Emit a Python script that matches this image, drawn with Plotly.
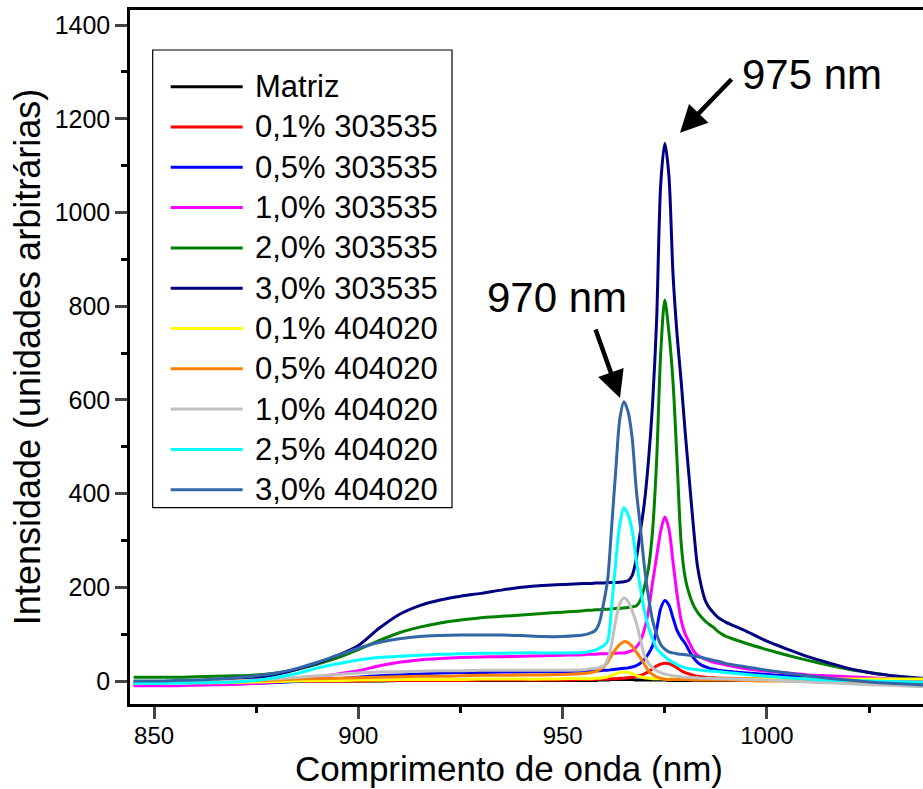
import plotly.graph_objects as go

# ---------------- data ----------------
wavelength = ([845, 850, 855, 860, 865, 870, 875, 880, 885, 890, 895, 900, 905, 910, 915,
               920, 925, 930, 935, 940, 945, 950, 955]
              + list(range(956, 991))
              + [995, 1000, 1005, 1010, 1015, 1020, 1025, 1030, 1035, 1040])

matriz = ([-1, -1, -1, -1, -1, 0, 0, 0, 0, 0, 0, 0, 0, 1, 1, 1, 1, 1, 1, 1, 1, 1, 1]
          + [1, 1, 1, 2, 2, 2, 3, 3, 3, 3, 3, 3, 2, 2, 2, 2, 2, 2, 2, 2, 1, 1, 1, 1, 1,
             1, 1, 1, 1, 1, 1, 1, 1, 1, 1]
          + [1, 1, 1, 0, 0, 0, 0, 0, 0, 0])

s303535_01 = ([-3, -3, -3, -3, -2, -2, -2, -1, -1, 0, 0, 0, 1, 1, 1, 1, 1, 2, 2, 2, 2, 2, 3]
              + [3, 3, 3, 4, 4, 4, 5, 5, 6, 6, 7, 8, 10, 12, 15, 20, 26, 32, 36, 38, 37, 33,
                 28, 22, 18, 15, 12, 10, 9, 8, 7, 7, 6, 6, 6]
              + [5, 4, 4, 3, 3, 2, 2, 2, 1, 1])

s303535_05 = ([-8, -8, -8, -7, -7, -6, -5, -3, -1, 2, 5, 8, 11, 13, 15, 17, 18, 18, 19, 19, 20, 20, 21]
              + [21, 22, 22, 22, 23, 23, 24, 25, 26, 27, 28, 30, 33, 38, 46, 58, 75, 110, 155,
                 172, 162, 135, 108, 92, 80, 64, 50, 40, 34, 30, 27, 25, 23, 22, 21]
              + [17, 14, 11, 8, 6, 5, 4, 3, 2, 2])

s303535_10 = ([-10, -10, -10, -9, -8, -7, -5, -2, 2, 8, 15, 22, 32, 40, 45, 48, 50, 51, 52, 53, 54, 55, 56]
              + [57, 57, 57, 58, 58, 58, 59, 59, 60, 60, 62, 65, 72, 85, 110, 150, 210, 265, 320,
                 350, 325, 255, 185, 130, 100, 82, 65, 55, 50, 46, 43, 40, 38, 36, 34]
              + [26, 21, 17, 13, 11, 9, 7, 5, 4, 3])

s303535_20 = ([8, 8, 8, 9, 10, 11, 13, 17, 25, 36, 50, 67, 86, 103, 115, 124, 130, 135, 138, 141, 144, 147, 150]
              + [151, 151, 152, 152, 153, 153, 154, 155, 155, 156, 157, 158, 160, 172, 200, 240, 320,
                 470, 700, 813, 745, 640, 470, 295, 220, 185, 162, 147, 136, 127, 120, 114, 106, 100, 95]
              + [80, 67, 55, 44, 34, 25, 18, 12, 7, 4])

s303535_30 = ([-4, -4, -3, -2, 0, 3, 7, 14, 25, 38, 55, 76, 112, 142, 161, 173, 181, 187, 194, 200, 204, 206, 208]
              + [208, 208, 209, 209, 209, 210, 210, 210, 211, 212, 214, 225, 260, 318, 380, 470, 590,
                 770, 1060, 1148, 1080, 870, 740, 640, 530, 430, 330, 245, 200, 170, 155, 145, 136, 130, 125]
              + [106, 85, 68, 52, 39, 27, 18, 12, 8, 5])

s404020_01 = ([-5, -5, -5, -4, -4, -3, -2, -1, 0, 1, 1, 2, 2, 3, 3, 3, 3, 4, 4, 4, 4, 5, 5]
              + [5, 5, 6, 6, 7, 9, 12, 15, 18, 19, 18, 16, 12, 9, 7, 6, 5, 5, 5, 4, 4, 4, 4, 4, 4,
                 4, 4, 4, 4, 4, 4, 4, 4, 4, 4]
              + [4, 4, 4, 4, 4, 4, 4, 4, 4, 4])

s404020_05 = ([-3, -3, -3, -2, -1, 0, 1, 2, 4, 5, 6, 7, 8, 9, 10, 10, 11, 12, 12, 13, 13, 14, 16]
              + [17, 18, 20, 24, 30, 40, 55, 68, 78, 84, 82, 74, 62, 50, 36, 22, 14, 9, 6, 4, 3, 3,
                 3, 3, 3, 3, 2, 2, 2, 2, 2, 2, 2, 2, 2]
              + [1, 0, 0, -1, -1, -2, -2, -3, -3, -3])

s404020_10 = ([-5, -5, -4, -3, -2, 0, 2, 5, 8, 11, 14, 17, 19, 20, 21, 22, 22, 23, 23, 23, 23, 23, 24]
              + [25, 26, 27, 29, 32, 45, 80, 130, 165, 177, 170, 150, 125, 90, 55, 38, 28, 22, 18,
                 15, 13, 11, 10, 9, 8, 8, 7, 7, 6, 6, 6, 5, 5, 5, 5]
              + [3, 2, 0, -2, -4, -6, -8, -9, -11, -12])

s404020_25 = ([-5, -5, -5, -4, -3, -2, 1, 8, 16, 28, 37, 45, 50, 53, 55, 57, 58, 59, 59, 60, 60, 60, 61]
              + [62, 64, 66, 70, 75, 85, 160, 255, 335, 370, 355, 322, 260, 200, 150, 115, 90, 70,
                 60, 52, 45, 40, 35, 31, 28, 26, 25, 24, 23, 22, 21, 21, 20, 19, 18]
              + [14, 10, 7, 4, 2, 1, 0, -1, -2, -3])

s404020_30 = ([0, 0, 1, 2, 4, 7, 11, 17, 27, 40, 55, 70, 82, 90, 95, 97, 98, 98, 98, 97, 95, 95, 98]
              + [100, 103, 108, 125, 165, 215, 330, 450, 560, 596, 575, 520, 410, 330, 245, 180, 130,
                 100, 78, 68, 62, 60, 58, 57, 56, 55, 54, 52, 50, 48, 46, 44, 42, 40, 37]
              + [30, 23, 17, 11, 6, 2, -2, -5, -7, -9])

series_names = ["Matriz", "0,1% 303535", "0,5% 303535", "1,0% 303535", "2,0% 303535",
                "3,0% 303535", "0,1% 404020", "0,5% 404020", "1,0% 404020", "2,5% 404020",
                "3,0% 404020"]
series_values = [matriz, s303535_01, s303535_05, s303535_10, s303535_20, s303535_30,
                 s404020_01, s404020_05, s404020_10, s404020_25, s404020_30]
series_colors = ["#000000", "#ff0000", "#0000ff", "#ff00ff", "#008000", "#000080",
                 "#ffff00", "#ff8000", "#c0c0c0", "#00ffff", "#3366a6"]

x_ticks = [850, 900, 950, 1000]
y_ticks = [0, 200, 400, 600, 800, 1000, 1200, 1400]

# ---------------- layout geometry ----------------
W, H = 923, 789
L, R, T, B = 130, 0, 10, 85
X_RANGE = [844.1, 1038.2]
Y_RANGE = [-49.1, 1432.2]
FONT = "Liberation Sans, Arial, sans-serif"


def px_x(px):
    return (px - L) / (W - L - R)


def px_y(py):
    return (H - B - py) / (H - T - B)


fig = go.Figure()
for name, vals, col in zip(series_names, series_values, series_colors):
    fig.add_trace(go.Scatter(x=wavelength, y=vals, mode="lines", name=name,
                             line=dict(color=col, width=3, shape="spline", smoothing=0.8)))

# manual legend (box, line samples, labels)
shapes = [dict(type="rect", xref="paper", yref="paper",
               x0=px_x(152.7), x1=px_x(452), y0=px_y(507.7), y1=px_y(50),
               line=dict(color="black", width=1.2), fillcolor="white", layer="above")]
annotations = []
for i, (name, col) in enumerate(zip(series_names, series_colors)):
    yy = px_y(86.7 + 40.3 * i)
    shapes.append(dict(type="line", xref="paper", yref="paper",
                       x0=px_x(170.7), x1=px_x(242.7), y0=yy, y1=yy,
                       line=dict(color=col, width=3), layer="above"))
    annotations.append(dict(xref="paper", yref="paper", x=px_x(253), y=yy,
                            text=name, showarrow=False, xanchor="left", yanchor="middle",
                            font=dict(family=FONT, size=31, color="black")))

# peak labels and arrows
annotations += [
    dict(xref="paper", yref="paper", x=px_x(812), y=px_y(75), text="975 nm",
         showarrow=False, xanchor="center", yanchor="middle",
         font=dict(family=FONT, size=42, color="black")),
    dict(xref="paper", yref="paper", x=px_x(557), y=px_y(298), text="970 nm",
         showarrow=False, xanchor="center", yanchor="middle",
         font=dict(family=FONT, size=42, color="black")),
    dict(xref="paper", yref="paper", x=px_x(680), y=px_y(132.7), text="",
         showarrow=True, ax=53, ay=-55, arrowhead=2, arrowsize=1.2, arrowwidth=4.5,
         arrowcolor="black"),
    dict(xref="paper", yref="paper", x=px_x(620), y=px_y(398), text="",
         showarrow=True, ax=-25, ay=-70, arrowhead=2, arrowsize=1.2, arrowwidth=4.5,
         arrowcolor="black"),
    # x-axis title (placed as in the reference, whose plot area runs past the right edge)
    dict(xref="paper", yref="paper", x=px_x(509), y=px_y(768), text="Comprimento de onda (nm)",
         showarrow=False, xanchor="center", yanchor="middle",
         font=dict(family=FONT, size=35, color="black")),
]

fig.update_layout(
    width=W, height=H, autosize=False,
    margin=dict(l=L, r=R, t=T, b=B, pad=0),
    plot_bgcolor="white", paper_bgcolor="white",
    showlegend=False,
    font=dict(family=FONT, color="black"),
    shapes=shapes, annotations=annotations,
)
fig.update_xaxes(
    range=X_RANGE, tickvals=x_ticks, ticks="outside", ticklen=12, tickwidth=2.5,
    ticklabelstandoff=-4,
    showline=True, linewidth=2.5, linecolor="black", mirror=True,
    showgrid=False, zeroline=False, tickfont=dict(family=FONT, size=24, color="black"),
    minor=dict(dtick=25, tick0=850, ticks="outside", ticklen=6, tickwidth=2.5, tickcolor="black"),
)
fig.update_yaxes(
    range=Y_RANGE, tickvals=y_ticks, ticks="outside", ticklen=12, tickwidth=2.5,
    showline=True, linewidth=2.5, linecolor="black", mirror=False,
    showgrid=False, zeroline=False, tickfont=dict(family=FONT, size=25, color="black"),
    minor=dict(dtick=100, tick0=0, ticks="outside", ticklen=6, tickwidth=2.5, tickcolor="black"),
    title=dict(text="Intensidade (unidades arbitrárias)",
               font=dict(family=FONT, size=36, color="black"), standoff=4),
)

fig.write_html("out.html")
